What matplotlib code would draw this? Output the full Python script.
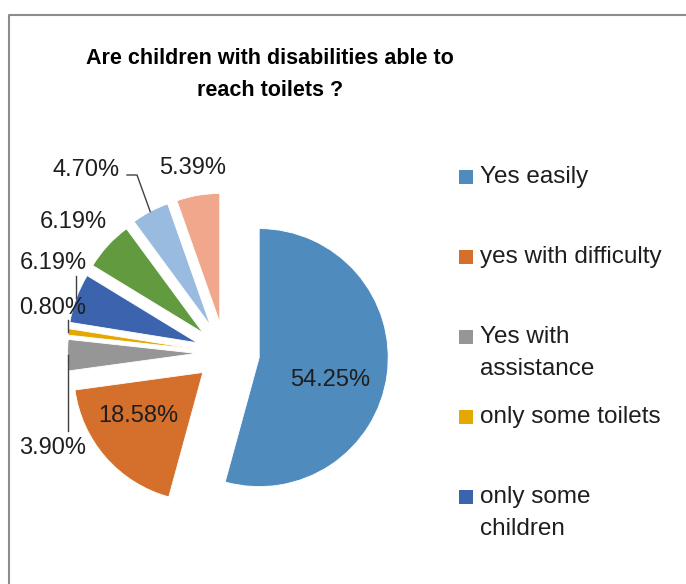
import numpy as np
import matplotlib
matplotlib.use("Agg")
import matplotlib.pyplot as plt
from matplotlib.patches import Rectangle

plt.rcParams['font.family'] = ['Liberation Sans', 'DejaVu Sans']

# survey answers
categories = ["Yes easily", "yes with difficulty", "Yes with\nassistance",
              "only some toilets", "only some\nchildren", "no", "not sure", "no answer"]
shares = [54.25, 18.58, 3.90, 0.80, 6.19, 6.19, 4.70, 5.39]
colors = ["#508BBE", "#D4702C", "#969696", "#E5A800",
          "#3C64AE", "#629A40", "#9ABBE0", "#F0A78B"]

W, H = 686, 584
R = 129
# how far each slice is pulled out (pixels, same units as the radius)
pull = [34.5, 29.5, 28.5, 29, 29.5, 30, 31, 31]

# label centres in pixels from top-left, and leader end points (None = no leader)
label_pos = [(330, 380), (138, 416), (53, 448), (53, 308),
             (53, 263), (73, 222), (86, 170), (193, 168)]
leaders = [None, None, [(None, 431)], [(None, 320)], [(None, 276)], None,
           [(137, 175), (127, 175)], None]


def fy(y):
    return H - y


fig = plt.figure(figsize=(W / 100, H / 100), dpi=100)
ax = fig.add_axes([0, 0, 1, 1])

wedges, _ = ax.pie(shares, explode=pull, colors=colors,
                   startangle=90, counterclock=False, radius=R,
                   center=(225, fy(353)),
                   wedgeprops=dict(edgecolor="white", linewidth=0.6))
ax.set_xlim(0, W)
ax.set_ylim(0, H)
ax.set_aspect("equal")
ax.axis("off")

txt = "#1e1e1e"
for w, pct, (lx, ly), lead in zip(wedges, shares, label_pos, leaders):
    ax.text(lx, fy(ly), f"{pct:.2f}%", ha="center", va="center",
            fontsize=17, color=txt)
    if lead is None:
        continue
    mid = np.deg2rad((w.theta1 + w.theta2) / 2)
    cx, cy = w.center
    px, py = cx + w.r * np.cos(mid), cy + w.r * np.sin(mid)
    xs, ys = [px], [py]
    for x, y in lead:
        xs.append(px if x is None else x)
        ys.append(fy(y))
    ax.plot(xs, ys, color="#404040", lw=1.0)

# title
ax.text(270, fy(58), "Are children with disabilities able to",
        ha="center", va="center", fontsize=15.5, fontweight="bold", color="black")
ax.text(270, fy(90), "reach toilets ?",
        ha="center", va="center", fontsize=15.5, fontweight="bold", color="black")

# legend, entries that fit in the chart area
ly = 177
for name, c in zip(categories, colors):
    lines = name.split("\n")
    if ly + (len(lines) - 1) * 32 + 14 > H - 30:
        break
    ax.add_patch(Rectangle((459, fy(ly) - 7), 14, 14, color=c, lw=0))
    for i, s in enumerate(lines):
        ax.text(480, fy(ly + i * 32), s, ha="left", va="center",
                fontsize=17.5, color=txt)
    ly += 80

# chart area border
ax.plot([9, 9, W + 5], [-5, fy(15), fy(15)], color="#8c8c8c", lw=1.5,
        clip_on=False)

fig.savefig("out.png", dpi=100)
